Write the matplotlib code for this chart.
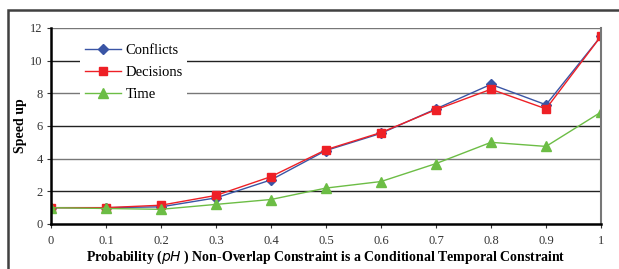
import matplotlib.pyplot as plt
from matplotlib.patches import Rectangle

p_h = [0, 0.1, 0.2, 0.3, 0.4, 0.5, 0.6, 0.7, 0.8, 0.9, 1]
x_labels = ["0", "0.1", "0.2", "0.3", "0.4", "0.5", "0.6", "0.7", "0.8", "0.9", "1"]
conflicts = [1.0, 1.0, 1.05, 1.6, 2.7, 4.5, 5.55, 7.05, 8.55, 7.3, 11.5]
decisions = [1.0, 1.0, 1.15, 1.75, 2.9, 4.55, 5.6, 7.0, 8.25, 7.05, 11.5]
time_su = [1.0, 0.95, 0.9, 1.2, 1.5, 2.2, 2.6, 3.7, 5.0, 4.75, 6.85]

plt.rcParams['font.family'] = ['Liberation Serif', 'DejaVu Serif']

fig = plt.figure(figsize=(6.19, 2.69), dpi=100)
ax = fig.add_axes([51/619, 1 - 224/269, 550/619, 196/269])

# outer frame of the chart
fig.patches.append(Rectangle((8/619, -0.2), 1.2, 0.2 + 1 - 10/269,
                             transform=fig.transFigure, fill=False,
                             edgecolor='#404040', linewidth=1.8))

for yv in [2, 4, 6, 8, 10, 12]:
    ax.axhline(yv, color='#222222' if yv % 4 else '#777777', lw=1.0, zorder=0)

ax.plot(p_h, conflicts, color='#3a55a5', marker='D', markersize=5, lw=1.0, label='Conflicts')
ax.plot(p_h, decisions, color='#ee2026', marker='s', markersize=6, lw=1.0, label='Decisions')
ax.plot(p_h, time_su, color='#6cbd45', marker='^', markersize=7, lw=1.0, label='Time')

ax.set_xlim(0, 1)
ax.set_ylim(0, 12)
ax.set_xticks(p_h)
ax.set_xticklabels(x_labels)
ax.set_yticks(range(0, 13, 2))
ax.tick_params(labelsize=9, colors='#333333', length=3, direction='out', pad=5)
ax.tick_params(axis='y', pad=3)

ax.spines['top'].set_visible(False)
ax.spines['left'].set_linewidth(1.8)
ax.spines['bottom'].set_linewidth(1.8)
ax.spines['right'].set_color('#777777')
ax.spines['right'].set_linewidth(1.5)

ax.set_xlabel('Probability ($\\mathbf{\\it{pH}}$ ) Non-Overlap Constraint is a Conditional Temporal Constraint',
              fontsize=10, fontweight='bold', labelpad=1)
ax.set_ylabel('Speed up', fontsize=10, fontweight='bold', labelpad=2)

leg = ax.legend(loc='upper left', bbox_to_anchor=(0.04, 0.98), frameon=True, fontsize=10.5,
                handlelength=2.5, handletextpad=0.3, labelspacing=0.6, borderpad=0.3)
leg.get_frame().set_edgecolor('none')
leg.get_frame().set_facecolor('white')
leg.get_frame().set_alpha(1)

fig.savefig('out.png', dpi=100)
